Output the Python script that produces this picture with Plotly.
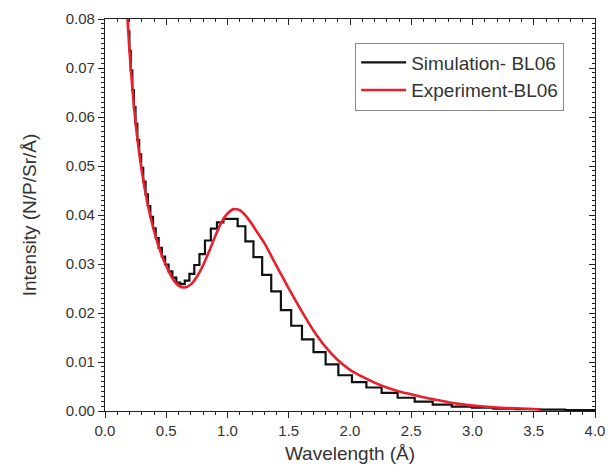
import plotly.graph_objects as go

# ---- Simulation histogram (log-spaced wavelength bins) ----
sim_edges = [0.150, 0.159, 0.168, 0.178, 0.188, 0.199, 0.210, 0.223, 0.236, 0.249,
             0.264, 0.279, 0.295, 0.312, 0.331, 0.350, 0.370, 0.392, 0.414, 0.438,
             0.464, 0.491, 0.519, 0.550, 0.582, 0.615, 0.651, 0.689, 0.729, 0.771,
             0.816, 0.864, 0.914, 0.967, 1.023, 1.083, 1.146, 1.212, 1.283, 1.357,
             1.436, 1.520, 1.608, 1.702, 1.801, 1.905, 2.016, 2.134, 2.258, 2.389,
             2.528, 2.675, 2.831, 2.995, 3.170, 3.354, 3.549, 3.756, 4.000]
sim_values = [0.0970, 0.0920, 0.0870, 0.0820, 0.0775, 0.0735, 0.0695, 0.0655, 0.0620, 0.0586,
              0.0553, 0.0524, 0.0496, 0.0468, 0.0442, 0.0418, 0.0396, 0.0373, 0.0353, 0.0333,
              0.0315, 0.0299, 0.0285, 0.0272, 0.0262, 0.0259, 0.0266, 0.0280, 0.0298, 0.0320,
              0.0348, 0.0372, 0.0385, 0.0392, 0.0392, 0.0377, 0.0346, 0.0314, 0.0278, 0.0244,
              0.0206, 0.0174, 0.0146, 0.0120, 0.0095, 0.0073, 0.0059, 0.0048, 0.0037, 0.0027,
              0.0019, 0.0013, 0.0009, 0.0007, 0.0005, 0.0004, 0.0003, 0.0002]

# ---- Experiment curve ----
exp_wavelength = [0.17, 0.20, 0.25, 0.30, 0.35, 0.40, 0.45, 0.50, 0.55, 0.60,
                  0.65, 0.70, 0.75, 0.80, 0.85, 0.90, 0.95, 1.00, 1.05, 1.10,
                  1.15, 1.20, 1.25, 1.30, 1.35, 1.40, 1.45, 1.50, 1.55, 1.60,
                  1.65, 1.70, 1.80, 1.90, 2.00, 2.10, 2.20, 2.30, 2.40, 2.50,
                  2.60, 2.70, 2.80, 2.90, 3.00, 3.10, 3.20, 3.30, 3.40, 3.50, 3.56]
exp_intensity = [0.0865, 0.0735, 0.0588, 0.0490, 0.0420, 0.0368, 0.0327, 0.0296, 0.0271, 0.0256,
                 0.0252, 0.0258, 0.0274, 0.0297, 0.0326, 0.0357, 0.0385, 0.0403, 0.0412, 0.0410,
                 0.0398, 0.0381, 0.0362, 0.0343, 0.0320, 0.0296, 0.0273, 0.0250, 0.0228, 0.0206,
                 0.0185, 0.0165, 0.0131, 0.0104, 0.0084, 0.0070, 0.0058, 0.0048, 0.0040, 0.0034,
                 0.0028, 0.0023, 0.0018, 0.0014, 0.0011, 0.0009, 0.0007, 0.0006, 0.0005, 0.0004, 0.0003]

x_ticks = [0.0, 0.5, 1.0, 1.5, 2.0, 2.5, 3.0, 3.5, 4.0]
y_ticks = [0.00, 0.01, 0.02, 0.03, 0.04, 0.05, 0.06, 0.07, 0.08]

FONT = "Liberation Sans, Arial, sans-serif"

step_x = sim_edges[:-1] + [sim_edges[-1]]
step_y = sim_values + [sim_values[-1]]

fig = go.Figure()
fig.add_trace(go.Scatter(x=step_x, y=step_y, mode="lines", line_shape="hv",
                         line=dict(color="#111111", width=2.2),
                         name="Simulation- BL06"))
fig.add_trace(go.Scatter(x=exp_wavelength, y=exp_intensity, mode="lines",
                         line=dict(color="#e8202c", width=2.6, shape="spline", smoothing=0.6),
                         name="Experiment-BL06"))
# invisible trace to host the mirrored (top/right) tick axes
fig.add_trace(go.Scatter(x=[None], y=[None], xaxis="x2", yaxis="y2",
                         showlegend=False, hoverinfo="skip"))

axis_common = dict(showgrid=False, zeroline=False, linecolor="#222", linewidth=1.2,
                   tickcolor="#222", automargin=False,
                   tickfont=dict(family=FONT, size=15, color="#333"))

fig.update_layout(
    width=608, height=476,
    margin=dict(l=105, r=13, t=19, b=65, autoexpand=False),
    paper_bgcolor="white", plot_bgcolor="white",
    xaxis=dict(range=[0, 4], tickvals=x_ticks, ticktext=[f"{v:.1f}" for v in x_ticks],
               ticks="outside", ticklen=6, mirror=True, showline=True,
               minor=dict(dtick=0.1, ticks="outside", ticklen=3, tickcolor="#222"),
               title=dict(text="Wavelength (Å)", font=dict(family=FONT, size=19, color="#333"),
                          standoff=8),
               **axis_common),
    yaxis=dict(range=[0, 0.08], tickvals=y_ticks, ticktext=[f"{v:.2f}" for v in y_ticks],
               ticks="outside", ticklen=6, mirror=True, showline=True,
               minor=dict(dtick=0.001, ticks="outside", ticklen=3, tickcolor="#222"),
               title=dict(text="Intensity (N/P/Sr/Å)", font=dict(family=FONT, size=19, color="#333"),
                          standoff=24),
               **axis_common),
    xaxis2=dict(overlaying="x", side="top", anchor="y", range=[0, 4], tickvals=x_ticks,
                showticklabels=False, ticks="inside", ticklen=6, showgrid=False, zeroline=False,
                showline=False, tickcolor="#222", automargin=False,
                minor=dict(dtick=0.1, ticks="inside", ticklen=3, tickcolor="#222")),
    yaxis2=dict(overlaying="y", side="right", anchor="x", range=[0, 0.08], tickvals=y_ticks,
                showticklabels=False, ticks="inside", ticklen=6, showgrid=False, zeroline=False,
                showline=False, tickcolor="#222", automargin=False,
                minor=dict(dtick=0.001, ticks="inside", ticklen=3, tickcolor="#222")),
    legend=dict(x=0.937, y=0.94, xanchor="right", yanchor="top",
                bgcolor="white", bordercolor="#888", borderwidth=1,
                font=dict(family=FONT, size=19, color="#333"),
                itemwidth=45, tracegroupgap=0),
    showlegend=True,
)

fig.write_html("out.html")
